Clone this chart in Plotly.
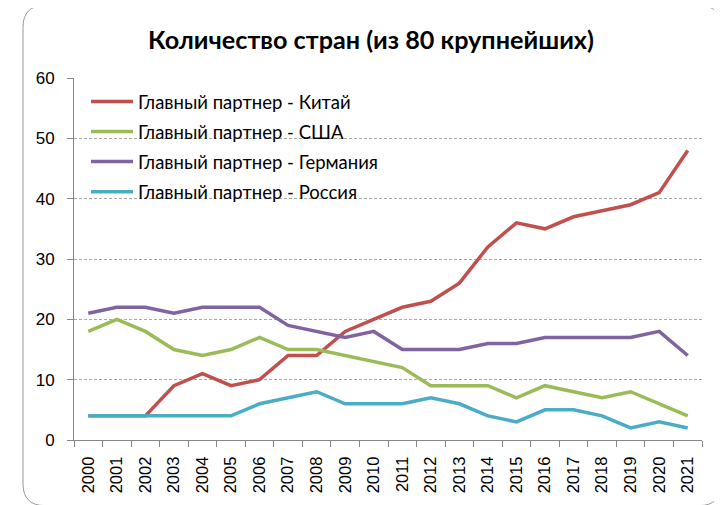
import plotly.graph_objects as go

years = [str(y) for y in range(2000, 2022)]
china = [4, 4, 4, 9, 11, 9, 10, 14, 14, 18, 20, 22, 23, 26, 32, 36, 35, 37, 38, 39, 41, 48]
usa = [18, 20, 18, 15, 14, 15, 17, 15, 15, 14, 13, 12, 9, 9, 9, 7, 9, 8, 7, 8, 6, 4]
germany = [21, 22, 22, 21, 22, 22, 22, 19, 18, 17, 18, 15, 15, 15, 16, 16, 17, 17, 17, 17, 18, 14]
russia = [4, 4, 4, 4, 4, 4, 6, 7, 8, 6, 6, 6, 7, 6, 4, 3, 5, 5, 4, 2, 3, 2]

names = ["Главный партнер - Китай", "Главный партнер - США",
         "Главный партнер - Германия", "Главный партнер - Россия"]
colors = ["#C0504D", "#9BBB59", "#8064A2", "#4BACC6"]
series = [china, usa, germany, russia]

OFF = 8  # default page body margin
W, H = 722 - OFF, 505 - OFF
L, R, T, B = 74 - OFF, 702 - OFF, 78 - OFF, 442 - OFF

fig = go.Figure()
for i, (n, c, s) in enumerate(zip(names, colors, series)):
    fig.add_trace(go.Scatter(x=years, y=s, mode="lines", name=n,
                             legendgroup=str(i),
                             line=dict(color=c, width=3.5)))

def px_x(p):
    return (p - OFF - L) / (R - L)

def px_y(p):
    return (B - (p - OFF)) / (B - T)

# rounded border
x0, x1, y0, y1, r = 23, 721, 5, 508, 22
path = (f"M {px_x(x0+r)} {px_y(y0)} L {px_x(x1-r)} {px_y(y0)} "
        f"Q {px_x(x1)} {px_y(y0)} {px_x(x1)} {px_y(y0+r)} "
        f"L {px_x(x1)} {px_y(y1-r)} Q {px_x(x1)} {px_y(y1)} {px_x(x1-r)} {px_y(y1)} "
        f"L {px_x(x0+r)} {px_y(y1)} Q {px_x(x0)} {px_y(y1)} {px_x(x0)} {px_y(y1-r)} "
        f"L {px_x(x0)} {px_y(y0+r)} Q {px_x(x0)} {px_y(y0)} {px_x(x0+r)} {px_y(y0)} Z")

LEG_FONT = "Lato, Liberation Sans, sans-serif"

fig.update_layout(
    width=W, height=H,
    margin=dict(l=L, r=W - R, t=T, b=H - B),
    paper_bgcolor="white", plot_bgcolor="white",
    showlegend=True,
    title=dict(text="<b>Количество стран (из 80 крупнейших)</b>",
               x=(371 - OFF) / W, xanchor="center", y=1 - (40 - OFF) / H, yanchor="middle",
               font=dict(family=LEG_FONT, size=25.2, color="black")),
    legend=dict(x=px_x(86), y=px_y(83), xanchor="left", yanchor="top",
                bgcolor="rgba(0,0,0,0)", traceorder="grouped", tracegroupgap=3,
                font=dict(family=LEG_FONT, size=18.5, color="black"),
                itemwidth=42),
    shapes=[dict(type="path", xref="paper", yref="paper", path=path,
                 line=dict(color="#9a9a9a", width=1), fillcolor="rgba(0,0,0,0)",
                 layer="below")],
    xaxis=dict(type="category", tickson="boundaries", ticks="outside", ticklen=6,
               tickcolor="#868686", showline=True, linecolor="#868686", linewidth=1,
               showgrid=False, tickangle=-90, ticklabelstandoff=9,
               tickfont=dict(family="Liberation Sans, Arial, sans-serif", size=16.5, color="black"),
               range=[-0.5, 21.5]),
    yaxis=dict(range=[0, 60], dtick=10, ticks="outside", ticklen=6, tickcolor="#868686",
               showline=True, linecolor="#868686", linewidth=1, ticklabelstandoff=9,
               showgrid=True, gridcolor="#a6a6a6", griddash="3px,2px", gridwidth=1,
               zeroline=False,
               tickfont=dict(family="Liberation Sans, Arial, sans-serif", size=17, color="black")),
)

fig.write_html("out.html")
